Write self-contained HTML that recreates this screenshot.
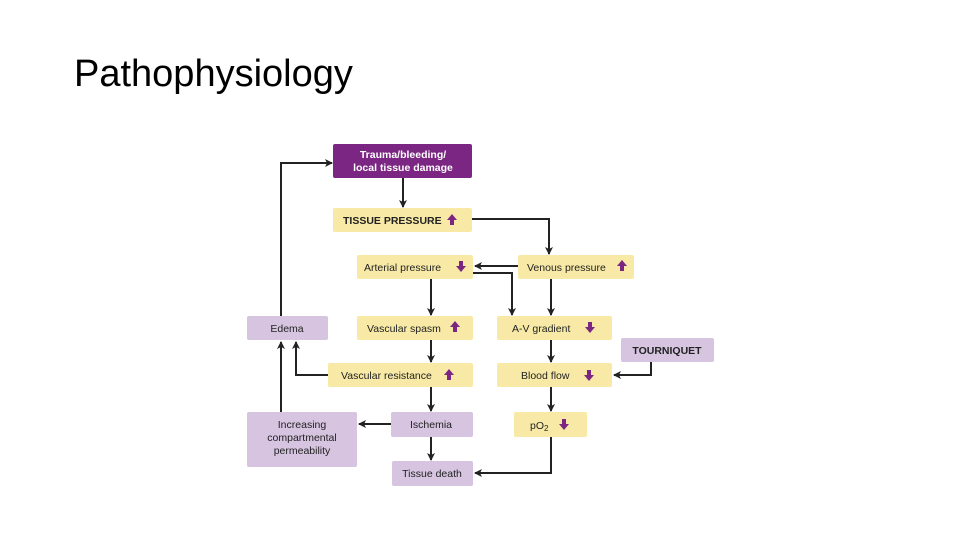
<!DOCTYPE html>
<html><head><meta charset="utf-8"><style>
body{margin:0;width:960px;height:540px;background:#fff;overflow:hidden;position:relative;font-family:"Liberation Sans",sans-serif}
.t{position:absolute;left:74px;top:53px;font-size:38px;letter-spacing:0px;color:#000}
svg{position:absolute;left:0;top:0}
</style></head><body>
<div class="t">Pathophysiology</div>
<svg width="960" height="540" viewBox="0 0 960 540" font-family="Liberation Sans, sans-serif" font-weight="bold" font-size="10.5">
<defs>
<marker id="a" markerWidth="8" markerHeight="8" refX="7" refY="4" orient="auto" markerUnits="userSpaceOnUse"><path d="M0,0 L8,4 L0,8 L2,4z" fill="#222"/></marker>
<g id="up"><path d="M0,-6 L5,0 L2,0 L2,5 L-2,5 L-2,0 L-5,0z" fill="#7b2682"/></g>
<g id="dn"><path d="M0,6 L5,0 L2,0 L2,-5 L-2,-5 L-2,0 L-5,0z" fill="#7b2682"/></g>
</defs>
<g stroke="#222" stroke-width="2" fill="none" marker-end="url(#a)">
<path d="M403,178 V207"/>
<path d="M472,219 H549 V254"/>
<path d="M518,266 H475"/>
<path d="M473,273 H512 V315"/>
<path d="M431,279 V315"/>
<path d="M551,279 V315"/>
<path d="M281,316 V163 H332"/>
<path d="M431,340 V362"/>
<path d="M551,340 V362"/>
<path d="M651,362 V375 H614"/>
<path d="M328,375 H296 V342"/>
<path d="M281,412 V342"/>
<path d="M431,387 V411"/>
<path d="M551,387 V411"/>
<path d="M391,424 H359"/>
<path d="M431,437 V460"/>
<path d="M551,437 V473 H475"/>
</g>
<g>
<rect x="333" y="144" width="139" height="34" rx="2" fill="#7b2682"/>
<text x="403" y="158" fill="#fff" text-anchor="middle">Trauma/bleeding/</text>
<text x="403" y="171" fill="#fff" text-anchor="middle">local tissue damage</text>
<g fill="#f8eaa6">
<rect x="333" y="208" width="139" height="24" rx="2"/>
<rect x="357" y="255" width="116" height="24" rx="2"/>
<rect x="518" y="255" width="116" height="24" rx="2"/>
<rect x="357" y="316" width="116" height="24" rx="2"/>
<rect x="497" y="316" width="115" height="24" rx="2"/>
<rect x="328" y="363" width="145" height="24" rx="2"/>
<rect x="497" y="363" width="115" height="24" rx="2"/>
<rect x="514" y="412" width="73" height="25" rx="2"/>
</g>
<g fill="#d6c4e0">
<rect x="247" y="316" width="81" height="24" rx="2"/>
<rect x="621" y="338" width="93" height="24" rx="2"/>
<rect x="247" y="412" width="110" height="55" rx="2"/>
<rect x="391" y="412" width="82" height="25" rx="2"/>
<rect x="392" y="461" width="81" height="25" rx="2"/>
</g>
<g fill="#222" font-weight="normal" font-size="10.5">
<text x="343" y="224" font-weight="bold">TISSUE PRESSURE</text>
<text x="364" y="271">Arterial pressure</text>
<text x="527" y="271">Venous pressure</text>
<text x="287" y="332" text-anchor="middle">Edema</text>
<text x="367" y="332">Vascular spasm</text>
<text x="512" y="332">A-V gradient</text>
<text x="667" y="354" text-anchor="middle" font-weight="bold">TOURNIQUET</text>
<text x="341" y="379">Vascular resistance</text>
<text x="521" y="379">Blood flow</text>
<text x="302" y="428" text-anchor="middle">Increasing</text>
<text x="302" y="441" text-anchor="middle">compartmental</text>
<text x="302" y="454" text-anchor="middle">permeability</text>
<text x="431" y="428" text-anchor="middle">Ischemia</text>
<text x="530" y="429">pO<tspan font-size="8" dy="2">2</tspan></text>
<text x="432" y="477" text-anchor="middle">Tissue death</text>
</g>
<use href="#up" x="452" y="220"/>
<use href="#dn" x="461" y="266"/>
<use href="#up" x="622" y="266"/>
<use href="#up" x="455" y="327"/>
<use href="#dn" x="590" y="327"/>
<use href="#up" x="449" y="375"/>
<use href="#dn" x="589" y="375"/>
<use href="#dn" x="564" y="424"/>
</g>
</svg>
</body></html>
